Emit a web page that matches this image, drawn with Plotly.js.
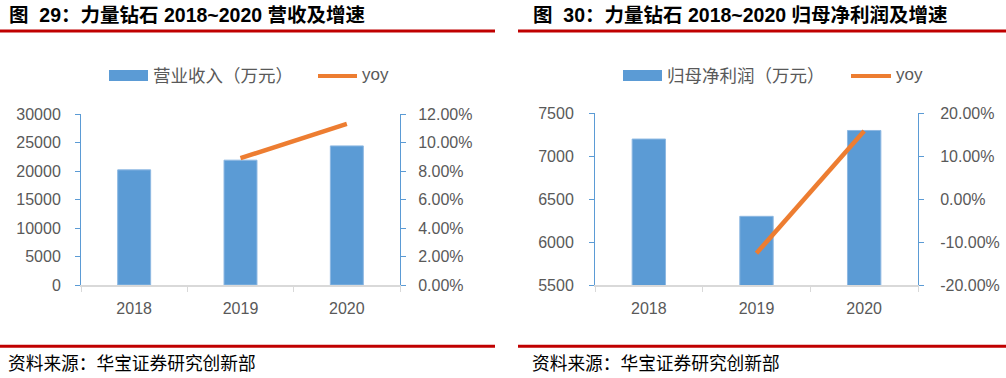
<!DOCTYPE html>
<html>
<head>
<meta charset="utf-8">
<script src="https://cdn.plot.ly/plotly-3.0.1.min.js"></script>
<style>html,body{margin:0;padding:0;background:#fff;}#chart{width:1006px;height:378px;}</style>
</head>
<body>
<div id="chart"></div>
<script>
// ---- data ----
const years = ['2018', '2019', '2020'];
const revenue = [20200, 21900, 24400];          // 营业收入（万元）
const revenueYoy = [null, 0.089, 0.113];        // yoy
const netProfit = [7200, 6300, 7300];           // 归母净利润（万元）
const netProfitYoy = [null, -0.126, 0.159];     // yoy
const leftTicks1 = [0, 5000, 10000, 15000, 20000, 25000, 30000];
const leftLabels1 = ['0', '5000', '10000', '15000', '20000', '25000', '30000'];
const rightTicks1 = [0, 0.02, 0.04, 0.06, 0.08, 0.10, 0.12];
const rightLabels1 = ['0.00%', '2.00%', '4.00%', '6.00%', '8.00%', '10.00%', '12.00%'];
const leftTicks2 = [5500, 6000, 6500, 7000, 7500];
const leftLabels2 = ['5500', '6000', '6500', '7000', '7500'];
const rightTicks2 = [-0.2, -0.1, 0, 0.1, 0.2];
const rightLabels2 = ['-20.00%', '-10.00%', '0.00%', '10.00%', '20.00%'];
const title1 = '图  29：力量钻石 2018~2020 营收及增速';
const title2 = '图  30：力量钻石 2018~2020 归母净利润及增速';
const series1Name = '营业收入（万元）';
const series2Name = '归母净利润（万元）';
const yoyName = 'yoy';
const sourceText = '资料来源：华宝证券研究创新部';

// ---- styling ----
const W = 1006, H = 378;
const px = x => x / W;
const py = y => 1 - y / H;
const BLUE = '#5B9BD5', ORANGE = '#ED7D31', RED = '#C00000', GRAY = '#595959';
const tickFont = {family: 'Liberation Sans, Arial, sans-serif', size: 16, color: GRAY};
const cjk = 'Liberation Sans, Noto Sans CJK SC, sans-serif';

const traces = [
  {type: 'bar', x: years, y: revenue, name: series1Name, xaxis: 'x', yaxis: 'y',
   width: 0.31, marker: {color: BLUE, line: {color: '#8DB8E2', width: 1}}, showlegend: false},
  {type: 'scatter', mode: 'lines', x: years, y: revenueYoy, name: yoyName, xaxis: 'x', yaxis: 'y2',
   line: {color: ORANGE, width: 4.5}, showlegend: false},
  {type: 'bar', x: years, y: netProfit, name: series2Name, xaxis: 'x2', yaxis: 'y3',
   width: 0.31, marker: {color: BLUE, line: {color: '#8DB8E2', width: 1}}, showlegend: false},
  {type: 'scatter', mode: 'lines', x: years, y: netProfitYoy, name: yoyName, xaxis: 'x2', yaxis: 'y4',
   line: {color: ORANGE, width: 4.5}, showlegend: false}
];

const xCommon = {type: 'category', range: [-0.5, 2.5], showline: true, linecolor: '#D9D9D9', linewidth: 1.5,
  ticks: 'outside', tickson: 'boundaries', ticklen: 5, tickcolor: '#D9D9D9', tickwidth: 1,
  tickfont: tickFont, showgrid: false, zeroline: false, fixedrange: true, ticklabelstandoff: 8};
const yCommon = {showline: true, linecolor: BLUE, linewidth: 1, ticks: 'outside', ticklen: 5,
  tickcolor: BLUE, tickwidth: 1, tickfont: tickFont, showgrid: false, zeroline: false, fixedrange: true};

const dom1x = [px(81), px(400)], dom1y = [py(285), py(114)];
const dom2x = [px(595), px(918)], dom2y = [py(285), py(113.3)];

const layout = {
  width: W, height: H, margin: {l: 0, r: 0, t: 0, b: 0},
  paper_bgcolor: '#fff', plot_bgcolor: 'rgba(0,0,0,0)', showlegend: false, bargap: 0,
  xaxis: Object.assign({}, xCommon, {domain: dom1x, anchor: 'y'}),
  yaxis: Object.assign({}, yCommon, {domain: dom1y, anchor: 'x', range: [0, 30000], tickvals: leftTicks1,
    ticktext: leftLabels1, ticklabelstandoff: 11}),
  yaxis2: Object.assign({}, yCommon, {overlaying: 'y', side: 'right', anchor: 'x', range: [0, 0.12],
    tickvals: rightTicks1, ticktext: rightLabels1, ticklabelstandoff: 9}),
  xaxis2: Object.assign({}, xCommon, {domain: dom2x, anchor: 'y3'}),
  yaxis3: Object.assign({}, yCommon, {domain: dom2y, anchor: 'x2', range: [5500, 7500], tickvals: leftTicks2,
    ticktext: leftLabels2, ticklabelstandoff: 12}),
  yaxis4: Object.assign({}, yCommon, {overlaying: 'y3', side: 'right', anchor: 'x2', range: [-0.2, 0.2],
    tickvals: rightTicks2, ticktext: rightLabels2, ticklabelstandoff: 13}),
  shapes: [
    // red rules
    {type: 'line', xref: 'paper', yref: 'paper', x0: px(0), x1: px(495), y0: py(31), y1: py(31), line: {color: RED, width: 3}},
    {type: 'line', xref: 'paper', yref: 'paper', x0: px(518), x1: px(1006), y0: py(31), y1: py(31), line: {color: RED, width: 3}},
    {type: 'line', xref: 'paper', yref: 'paper', x0: px(0), x1: px(495), y0: py(346.3), y1: py(346.3), line: {color: RED, width: 3}},
    {type: 'line', xref: 'paper', yref: 'paper', x0: px(518), x1: px(1006), y0: py(346.3), y1: py(346.3), line: {color: RED, width: 3}},
    // legend swatches
    {type: 'rect', xref: 'paper', yref: 'paper', x0: px(109), x1: px(148), y0: py(81), y1: py(70), fillcolor: BLUE, line: {width: 0}},
    {type: 'line', xref: 'paper', yref: 'paper', x0: px(318), x1: px(357), y0: py(76), y1: py(76), line: {color: ORANGE, width: 4}},
    {type: 'rect', xref: 'paper', yref: 'paper', x0: px(623), x1: px(662), y0: py(81), y1: py(70), fillcolor: BLUE, line: {width: 0}},
    {type: 'line', xref: 'paper', yref: 'paper', x0: px(851), x1: px(891), y0: py(76), y1: py(76), line: {color: ORANGE, width: 4}}
  ],
  annotations: [
    {text: '<b>' + title1 + '</b>', xref: 'paper', yref: 'paper', x: px(7), y: py(15), xanchor: 'left', yanchor: 'middle',
     showarrow: false, font: {family: cjk, size: 19.5, color: '#000'}},
    {text: '<b>' + title2 + '</b>', xref: 'paper', yref: 'paper', x: px(531), y: py(15), xanchor: 'left', yanchor: 'middle',
     showarrow: false, font: {family: cjk, size: 19.5, color: '#000'}},
    {text: series1Name, xref: 'paper', yref: 'paper', x: px(151), y: py(75), xanchor: 'left', yanchor: 'middle',
     showarrow: false, font: {family: 'Noto Sans CJK SC, sans-serif', size: 17.5, color: GRAY}},
    {text: yoyName, xref: 'paper', yref: 'paper', x: px(360), y: py(75), xanchor: 'left', yanchor: 'middle',
     showarrow: false, font: {family: 'Liberation Sans, sans-serif', size: 17, color: GRAY}},
    {text: series2Name, xref: 'paper', yref: 'paper', x: px(665), y: py(75), xanchor: 'left', yanchor: 'middle',
     showarrow: false, font: {family: 'Noto Sans CJK SC, sans-serif', size: 17.5, color: GRAY}},
    {text: yoyName, xref: 'paper', yref: 'paper', x: px(894), y: py(75), xanchor: 'left', yanchor: 'middle',
     showarrow: false, font: {family: 'Liberation Sans, sans-serif', size: 17, color: GRAY}},
    {text: sourceText, xref: 'paper', yref: 'paper', x: px(6), y: py(362), xanchor: 'left', yanchor: 'middle',
     showarrow: false, font: {family: 'Noto Sans CJK SC, sans-serif', size: 17.7, color: '#000'}},
    {text: sourceText, xref: 'paper', yref: 'paper', x: px(530), y: py(362), xanchor: 'left', yanchor: 'middle',
     showarrow: false, font: {family: 'Noto Sans CJK SC, sans-serif', size: 17.7, color: '#000'}}
  ]
};

Plotly.newPlot('chart', traces, layout, {displayModeBar: false, staticPlot: true});
</script>
</body>
</html>
